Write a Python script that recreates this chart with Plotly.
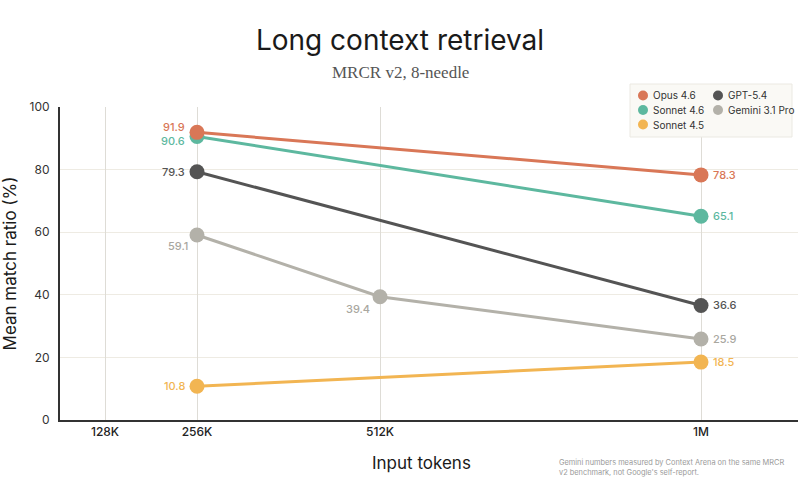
import plotly.graph_objects as go

# ---- data ----
x_labels = ["128K", "256K", "512K", "1M"]
series_names = ["Opus 4.6", "Sonnet 4.6", "Sonnet 4.5", "GPT-5.4", "Gemini 3.1 Pro"]
series_x = {
    "Opus 4.6": ["256K", "1M"],
    "Sonnet 4.6": ["256K", "1M"],
    "Sonnet 4.5": ["256K", "1M"],
    "GPT-5.4": ["256K", "1M"],
    "Gemini 3.1 Pro": ["256K", "512K", "1M"],
}
opus_46 = [91.9, 78.3]
sonnet_46 = [90.6, 65.1]
sonnet_45 = [10.8, 18.5]
gpt_54 = [79.3, 36.6]
gemini_31 = [59.1, 39.4, 25.9]

# ---- style ----
tick_pos = {"128K": 45, "256K": 137, "512K": 320, "1M": 641}
x_range = [0, 738]
colors = {
    "Opus 4.6": "#d97757",
    "Sonnet 4.6": "#5db89f",
    "Sonnet 4.5": "#f2b552",
    "GPT-5.4": "#545454",
    "Gemini 3.1 Pro": "#b3b1a9",
}
label_colors = dict(colors)
label_colors["Gemini 3.1 Pro"] = "#a9a79f"
values = {
    "Opus 4.6": opus_46,
    "Sonnet 4.6": sonnet_46,
    "Sonnet 4.5": sonnet_45,
    "GPT-5.4": gpt_54,
    "Gemini 3.1 Pro": gemini_31,
}
label_offsets = {
    "Opus 4.6": [(-11, 5, "right"), (11, 0, "left")],
    "Sonnet 4.6": [(-11, -5, "right"), (11, 0, "left")],
    "Sonnet 4.5": [(-11, 0, "right"), (11, 0, "left")],
    "GPT-5.4": [(-11, 0, "right"), (11, 0, "left")],
    "Gemini 3.1 Pro": [(-8, -11, "right"), (-9, -12, "right"), (11, 0, "left")],
}

SANS = "Inter, 'Open Sans', sans-serif"
L, R, T, B = 60, 2, 107, 80
PW, PH = 800 - L - R, 500 - T - B


def px_x(p):
    return (p - L) / PW


def px_y(p):
    return (500 - B - p) / PH


fig = go.Figure()
for name in ["Sonnet 4.5", "Gemini 3.1 Pro", "GPT-5.4", "Sonnet 4.6", "Opus 4.6"]:
    xs = [tick_pos[c] for c in series_x[name]]
    fig.add_trace(go.Scatter(
        x=xs, y=values[name], mode="lines+markers", name=name,
        line=dict(color=colors[name], width=3),
        marker=dict(color=colors[name], size=15),
        showlegend=False, hoverinfo="skip",
    ))
    for xv, yv, (dx, dy, anc) in zip(xs, values[name], label_offsets[name]):
        fig.add_annotation(
            x=xv, y=yv, text=f"{yv:.1f}", showarrow=False,
            xanchor=anc, yanchor="middle", xshift=dx, yshift=dy, borderpad=0,
            font=dict(family=SANS, size=11, color=label_colors[name], weight=500),
        )

# legend box (drawn manually for compact layout)
fig.add_shape(type="rect", xref="paper", yref="paper",
              x0=px_x(630), x1=px_x(792), y0=px_y(137), y1=px_y(84),
              line=dict(color="#ebe9e2", width=1), fillcolor="#faf9f5",
              layer="above")
legend_cols = [(643, ["Opus 4.6", "Sonnet 4.6", "Sonnet 4.5"]),
               (718, ["GPT-5.4", "Gemini 3.1 Pro"])]
row_y = [95.5, 110, 124.5]
for cx, names in legend_cols:
    for name, ry in zip(names, row_y):
        r = 5
        fig.add_shape(type="circle", xref="paper", yref="paper",
                      x0=px_x(cx - r), x1=px_x(cx + r), y0=px_y(ry + r), y1=px_y(ry - r),
                      line=dict(width=0), fillcolor=colors[name], layer="above")
        fig.add_annotation(text=name, xref="paper", yref="paper",
                           x=px_x(cx + 8), y=px_y(ry), showarrow=False,
                           xanchor="left", yanchor="middle",
                           font=dict(family=SANS, size=10, color="#333333"))

fig.update_layout(
    width=800, height=500,
    margin=dict(l=L, r=R, t=T, b=B, autoexpand=False),
    paper_bgcolor="white", plot_bgcolor="white",
    showlegend=False,
    title=dict(text="Long context retrieval", x=0.5, xref="container", xanchor="center",
               y=0.92, yanchor="middle",
               font=dict(family=SANS, size=28, color="#1a1a1a")),
    xaxis=dict(
        range=x_range, tickvals=[tick_pos[c] for c in x_labels], ticktext=x_labels,
        showgrid=True, gridcolor="#dedcd6", gridwidth=1, zeroline=False,
        showline=True, linecolor="#333333", linewidth=2, automargin=False,
        ticks="", tickfont=dict(family=SANS, size=12, color="#222222", weight=500),
        fixedrange=True,
    ),
    yaxis=dict(
        range=[0, 100], tickvals=[0, 20, 40, 60, 80, 100],
        showgrid=False, zeroline=False,
        minor=dict(tickvals=[20, 40, 60, 80], showgrid=True, gridcolor="#eeebe3", gridwidth=1),
        showline=True, linecolor="#333333", linewidth=2, automargin=False,
        ticks="", ticklabelstandoff=6,
        tickfont=dict(family=SANS, size=12, color="#333333"),
        title=dict(text="Mean match ratio (%)", font=dict(family=SANS, size=17, color="#1a1a1a"),
                   standoff=14),
        fixedrange=True,
    ),
)

fig.add_annotation(text="Input tokens", xref="paper", yref="paper",
                   x=px_x(421), y=px_y(463), showarrow=False,
                   xanchor="center", yanchor="middle",
                   font=dict(family=SANS, size=17, color="#1a1a1a"))
fig.add_annotation(text="MRCR v2, 8-needle", xref="paper", yref="paper",
                   x=px_x(400), y=px_y(72), showarrow=False,
                   xanchor="center", yanchor="middle",
                   font=dict(family="'Liberation Serif', serif", size=17, color="#555555"))
fig.add_annotation(text="Gemini numbers measured by Context Arena on the same MRCR<br>v2 benchmark, not Google's self-report.",
                   xref="paper", yref="paper",
                   x=px_x(557), y=px_y(456), showarrow=False,
                   xanchor="left", yanchor="top", align="left",
                   font=dict(family=SANS, size=7.4, color="#9a9a9a"))

fig.write_html(
    "out.html",
    config={"displayModeBar": False},
    post_script="document.body.style.margin='0';document.body.style.overflow='hidden';",
)
